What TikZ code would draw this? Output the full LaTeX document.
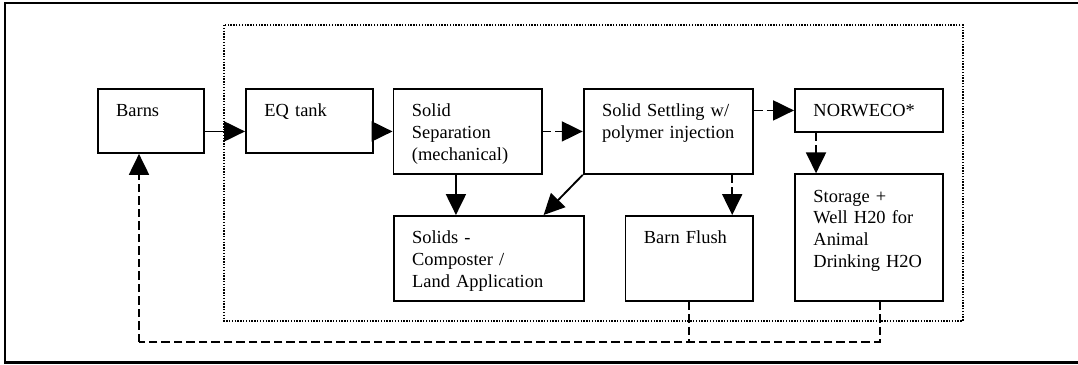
\documentclass[tikz,border=0pt]{standalone}
\usepackage{fontspec}
\setmainfont{Liberation Serif}
\usetikzlibrary{positioning,arrows.meta}

\begin{document}
\begin{tikzpicture}[x=0.64pt, y=-0.64pt, font=\fontsize{11.8}{13.9}\selectfont,
  box/.style={rectangle, draw=black, line width=1.2pt, anchor=north west, inner xsep=11.84pt, inner ysep=0pt, align=left, text height=17.92pt},
  flow/.style={line width=1.2pt, -{Triangle[length=13.4pt, width=12.8pt]}},
  link/.style={flow, dash pattern=on 5.4pt off 2.6pt},
  back/.style={line width=1.2pt, dash pattern=on 5.4pt off 2.6pt}]
%

\useasboundingbox (0,0) rectangle (1078,364);

%%% frame and plant boundary
\draw [line width=1.3pt] (1100,3.3) -- (5.3,3.3) -- (5.3,362.5) -- (1100,362.5);
\draw [line width=1.3pt, dash pattern=on 0.9pt off 0.9pt] (224,25) rectangle (962.7,321);

%%% nodes and boxes
\node [box, text width=44.16pt, text depth=23.04pt] (barns) at (96.7,88) {Barns};
\node [box, text width=57.6pt, text depth=23.04pt] (eq) at (245,88) {EQ tank};
\node [box, text width=71.36pt, text depth=36.48pt] (sep) at (392.5,88) {Solid\\ Separation\\ (mechanical)};
\node [box, text width=84.9pt, text depth=36.48pt] (settle) at (582.7,88) {Solid Settling w/\\ \mbox{polymer injection}};
\node [box, text width=71.2pt, text depth=9.6pt] (norweco) at (794,88) {NORWECO*};

%%% lower row
\node [box, text width=97.9pt, text depth=36.48pt] (solids) at (392.7,215) {Solids -\\ Composter /\\ Land Application};
\node [box, text width=57.9pt, text depth=36.48pt] (flush) at (624.5,215) {Barn Flush};
\node [box, text width=71.2pt, text depth=63.2pt] (store) at (794,173.3) {Storage +\\ Well H20 for\\ Animal\\ Drinking H2O};

%%% connections, arrows
\draw [flow] (barns.east |- sep.west) -- (eq.west |- sep.west);
\draw [flow] (eq.east |- sep.west) -- (sep.west);
\draw [link] (sep.east) -- (settle.west);
\draw [link] (settle.east |- norweco.west) -- (norweco.west);
\draw [link] ([xshift=14.1pt]norweco.south west) -- ([xshift=14.1pt]store.north west);

\draw [flow] ([xshift=40.6pt]sep.south west) -- ([xshift=40.6pt]sep.south west |- solids.north);
\draw [flow] (settle.south west) -- ([xshift=-26.2pt]solids.north east);
\draw [link] ([xshift=-14.1pt]settle.south east) -- ([xshift=-14.1pt]settle.south east |- flush.north);

%%% return water to barns
\coordinate (ret) at (139,342);
\draw [back] (flush.south) -- (flush.south |- ret);
\draw [back] ([xshift=6.8pt]store.south) |- (ret);
\draw [back, flow] (ret) -- (ret |- barns.south);

\end{tikzpicture}
\end{document}
